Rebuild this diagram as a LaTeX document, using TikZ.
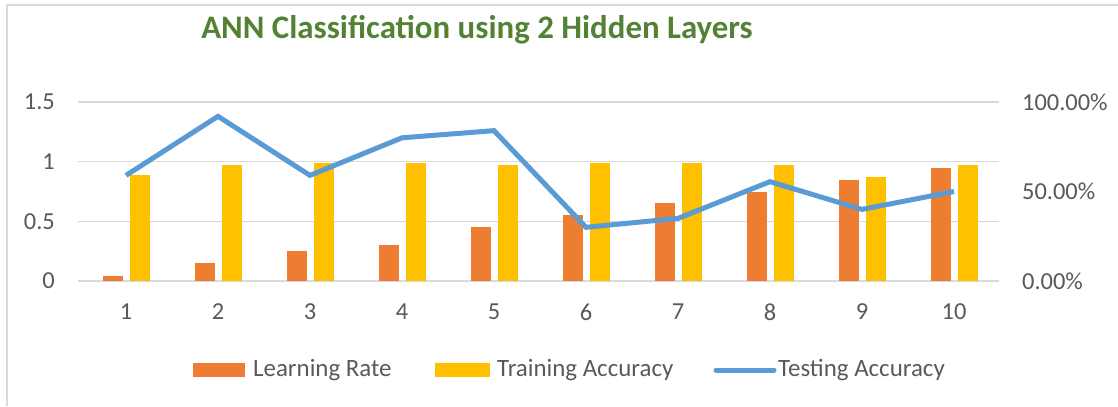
\documentclass[tikz,border=0pt]{standalone}
\usepackage{fontspec}
\setmainfont{Carlito}
\definecolor{lrorange}{HTML}{ED7D31}
\definecolor{tryellow}{HTML}{FFC000}
\definecolor{teblue}{HTML}{5B9BD5}
\definecolor{gridgray}{HTML}{D9D9D9}
\definecolor{framegray}{HTML}{DADADA}
\definecolor{labelgray}{HTML}{595959}
\definecolor{titlegreen}{HTML}{548235}
\tikzset{
  ticklabel/.style={font=\fontsize{24.5}{28}\selectfont, text=labelgray, inner sep=0pt},
  legendlabel/.style={font=\fontsize{25}{29}\selectfont, text=labelgray, inner sep=0pt, anchor=west},
  charttitle/.style={font=\fontsize{33}{38}\selectfont\bfseries, text=titlegreen, inner sep=0pt, anchor=base},
  gridline/.style={draw=gridgray, line width=1.5bp},
  framerule/.style={draw=framegray, line width=2bp},
  testline/.style={draw=teblue, line width=5bp, line join=miter},
}
\begin{document}
\begin{tikzpicture}[x=1bp, y=-1bp]
\useasboundingbox (0,0) rectangle (1118,406);

% chart frame (top and left edges)
\draw[framerule] (6,5) -- (1118,5);
\draw[framerule] (7,5) -- (7,406);

% title
\node[charttitle] (title) at (477,38) {ANN Classification using 2 Hidden Layers};

% horizontal gridlines and left axis labels (0 .. 1.5)
\foreach \v/\t [count=\k] in {0/0, 0.5/0.5, 1/1, 1.5/1.5} {
  \draw[gridline] (78,{281-119.33*\v}) -- (999,{281-119.33*\v});
  \node[ticklabel, anchor=east] (yl\k) at (55,{281-119.33*\v}) {\t};
}

% right axis labels (0% .. 100%)
\foreach \p/\t [count=\k] in {0/0.00\%, 0.5/50.00\%, 1/100.00\%} {
  \node[ticklabel, anchor=west] (yr\k) at (1022,{281-179*\p}) {\t};
}

% bars, category labels and line points
\foreach \i/\lr/\tr/\te in {
  1/0.04/0.89/0.59,
  2/0.15/0.97/0.92,
  3/0.25/0.99/0.59,
  4/0.30/0.99/0.80,
  5/0.45/0.97/0.84,
  6/0.55/0.99/0.30,
  7/0.65/0.99/0.35,
  8/0.75/0.97/0.555,
  9/0.85/0.87/0.40,
  10/0.95/0.97/0.50} {
  \pgfmathsetmacro{\c}{126+92*(\i-1)}
  \fill[lrorange] ({\c-23},281) rectangle ({\c-3},{281-119.33*\lr});
  \fill[tryellow] ({\c+4},281) rectangle ({\c+24},{281-119.33*\tr});
  \node[ticklabel] (x\i) at (\c,312) {\i};
  \coordinate (p\i) at (\c,{281-179*\te});
}

% testing accuracy line
\draw[testline] (p1) \foreach \i in {2,...,10} { -- (p\i) };

% legend
\coordinate (lgA1) at (193,363);
\coordinate (lgA2) at (245,377);
\fill[lrorange] (lgA1) rectangle (lgA2);
\node[legendlabel] (lgA) at (253,370) {Learning Rate};
\coordinate (lgB1) at (435,363);
\coordinate (lgB2) at (490,377);
\fill[tryellow] (lgB1) rectangle (lgB2);
\node[legendlabel] (lgB) at (497,370) {Training Accuracy};
\coordinate (lgC1) at (716,370);
\coordinate (lgC2) at (774,370);
\draw[testline, line cap=round] (lgC1) -- (lgC2);
\node[legendlabel] (lgC) at (778,370) {Testing Accuracy};
\end{tikzpicture}
\end{document}
